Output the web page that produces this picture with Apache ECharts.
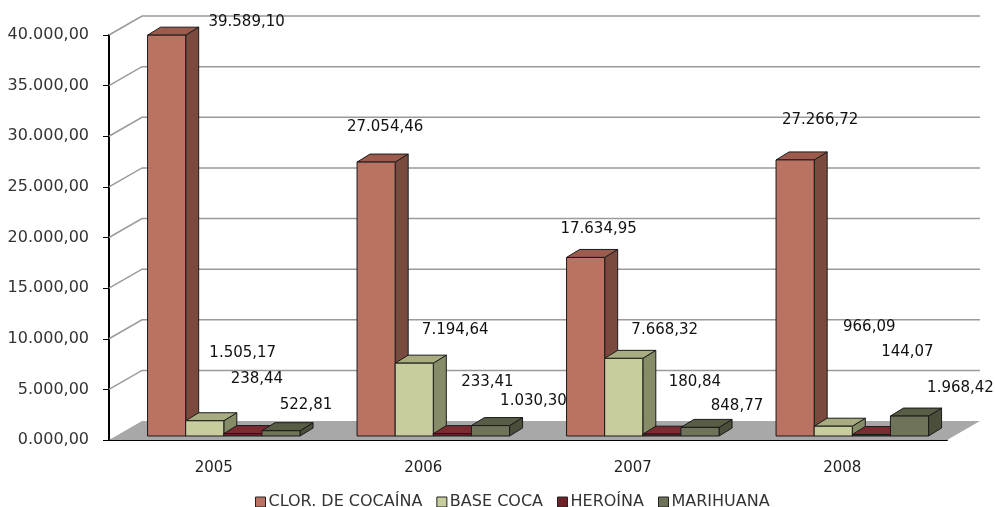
<!DOCTYPE html>
<html>
<head>
<meta charset="utf-8">
<script src="https://cdn.jsdelivr.net/npm/echarts@6/dist/echarts.min.js"></script>
<style>
  html, body { margin: 0; padding: 0; background: #fff; }
  #main { width: 995px; height: 507px; }
</style>
</head>
<body>
<div id="main"></div>
<script>
// datos por año
var years = ['2005', '2006', '2007', '2008'];
var cocaina = [39589.10, 27054.46, 17634.95, 27266.72];
var baseCoca = [1505.17, 7194.64, 7668.32, 966.09];
var heroina = [238.44, 233.41, 180.84, 144.07];
var marihuana = [522.81, 1030.30, 848.77, 1968.42];
var yTicks = [0, 5000, 10000, 15000, 20000, 25000, 30000, 35000, 40000];
var yTickLabels = ['0.000,00', '5.000,00', '10.000,00', '15.000,00', '20.000,00',
                   '25.000,00', '30.000,00', '35.000,00', '40.000,00'];

// desplazamiento de las etiquetas (px) respecto al centro superior de cada barra
var labelShift = [
  [[80, -13], [9, -35], [13, -28], [25, -40]],
  [[38, -68], [41, -33], [41, -28], [36, -99]],
  [[14, -54], [35, -52], [33, -52], [36, -82]],
  [[25, -26], [43, -24], [37, -21], [51, -28]]
];

var series3d = [
  { name: 'CLOR. DE COCAÍNA', data: cocaina, front: '#BA7263', top: '#9C5B4C', side: '#7B4A3F' },
  { name: 'BASE COCA', data: baseCoca, front: '#C9CD9E', top: '#A8AC80', side: '#868B68' },
  { name: 'HEROÍNA', data: heroina, front: '#6E2228', top: '#7C2C31', side: '#4E161A' },
  { name: 'MARIHUANA', data: marihuana, front: '#6E735A', top: '#585D45', side: '#4A4E3A' }
];

var WALL_DX = 33, WALL_DY = -19;
var BAR_DX = 13, BAR_DY = -8;
var BAR_RATIO = 0.182, GROUP_SHIFT = 0.048, LIFT = 4;

function fmt(v) {
  var p = v.toFixed(2).split('.');
  return p[0].replace(/\B(?=(\d{3})+(?!\d))/g, '.') + ',' + p[1];
}

function renderWalls(params, api) {
  var cs = params.coordSys;
  var left = cs.x, right = cs.x + cs.width;
  var y0 = api.coord([0, 0])[1];
  var children = [];
  children.push({
    type: 'polygon',
    shape: { points: [[left, y0], [right, y0], [right + WALL_DX, y0 + WALL_DY], [left + WALL_DX, y0 + WALL_DY]] },
    style: { fill: '#A8A8A8', stroke: null }
  });
  yTicks.forEach(function (t) {
    if (t === 0) return;
    var y = api.coord([0, t])[1];
    children.push({
      type: 'polyline',
      shape: { points: [[left, y], [left + WALL_DX, y + WALL_DY], [right + WALL_DX, y + WALL_DY]] },
      style: { stroke: '#9A9A9A', lineWidth: 1.5, fill: null }
    });
  });
  return { type: 'group', children: children };
}

function renderBar(sIdx) {
  var s = series3d[sIdx];
  return function (params, api) {
    var c = api.value(0), v = api.value(1);
    var base = api.coord([c, 0]);
    var top = api.coord([c, v]);
    var cw = api.size([1, 0])[0];
    var bw = cw * BAR_RATIO;
    var x0 = base[0] + cw * GROUP_SHIFT - 2 * bw + sIdx * bw;
    var x1 = x0 + bw;
    var yb = base[1] - LIFT, yt = top[1] - LIFT;
    var stroke = { stroke: '#1a1a1a', lineWidth: 1, lineJoin: 'round' };
    var sh = labelShift[sIdx][c];
    return {
      type: 'group',
      children: [
        { type: 'polygon', shape: { points: [[x1, yt], [x1 + BAR_DX, yt + BAR_DY], [x1 + BAR_DX, yb + BAR_DY], [x1, yb]] },
          style: Object.assign({ fill: s.side }, stroke) },
        { type: 'polygon', shape: { points: [[x0, yt], [x0 + BAR_DX, yt + BAR_DY], [x1 + BAR_DX, yt + BAR_DY], [x1, yt]] },
          style: Object.assign({ fill: s.top }, stroke) },
        { type: 'rect', shape: { x: x0, y: yt, width: bw, height: Math.max(yb - yt, 0.5) },
          style: Object.assign({ fill: s.front }, stroke) },
        { type: 'text', z2: 100, x: (x0 + x1) / 2 + sh[0], y: yt + sh[1],
          style: { text: fmt(v), fill: '#111', font: '15px "DejaVu Sans"', align: 'center', verticalAlign: 'middle' } }
      ]
    };
  };
}

var myChart = echarts.init(document.getElementById('main'));

var seriesList = [{
  type: 'custom',
  name: 'walls',
  silent: true,
  z: 1,
  data: [[0, 0]],
  renderItem: renderWalls
}];
series3d.forEach(function (s, i) {
  seriesList.push({
    type: 'custom',
    name: s.name,
    z: 2,
    itemStyle: { color: s.front },
    data: s.data.map(function (v, k) { return [k, v]; }),
    renderItem: renderBar(i)
  });
});

var option = {
  backgroundColor: '#fff',
  animation: false,
  grid: { left: 109, right: 48, top: 35, bottom: 67 },
  legend: {
    data: series3d.map(function (s) { return s.name; }),
    left: 250,
    top: 489,
    icon: 'rect',
    itemWidth: 10,
    itemHeight: 10,
    itemGap: 14,
    itemStyle: { borderColor: '#222', borderWidth: 1 },
    textStyle: { fontFamily: 'DejaVu Sans', fontSize: 16, color: '#333', padding: [0, 0, 0, -2] }
  },
  xAxis: {
    type: 'category',
    data: years,
    axisLine: { lineStyle: { color: '#000', width: 2 } },
    axisTick: { length: 6, lineStyle: { color: '#000', width: 1 } },
    axisLabel: { fontFamily: 'DejaVu Sans', fontSize: 15, color: '#222', margin: 21 },
    splitLine: { show: false }
  },
  yAxis: {
    type: 'value',
    min: 0,
    max: 40000,
    interval: 5000,
    axisLine: { show: true, lineStyle: { color: '#000', width: 2 } },
    axisTick: { show: true, length: 6, lineStyle: { color: '#000', width: 1 } },
    axisLabel: {
      fontFamily: 'DejaVu Sans', fontSize: 16, color: '#333', margin: 20,
      formatter: function (v) { return yTickLabels[yTicks.indexOf(v)]; }
    },
    splitLine: { show: false }
  },
  series: seriesList
};

myChart.setOption(option);
</script>
</body>
</html>
